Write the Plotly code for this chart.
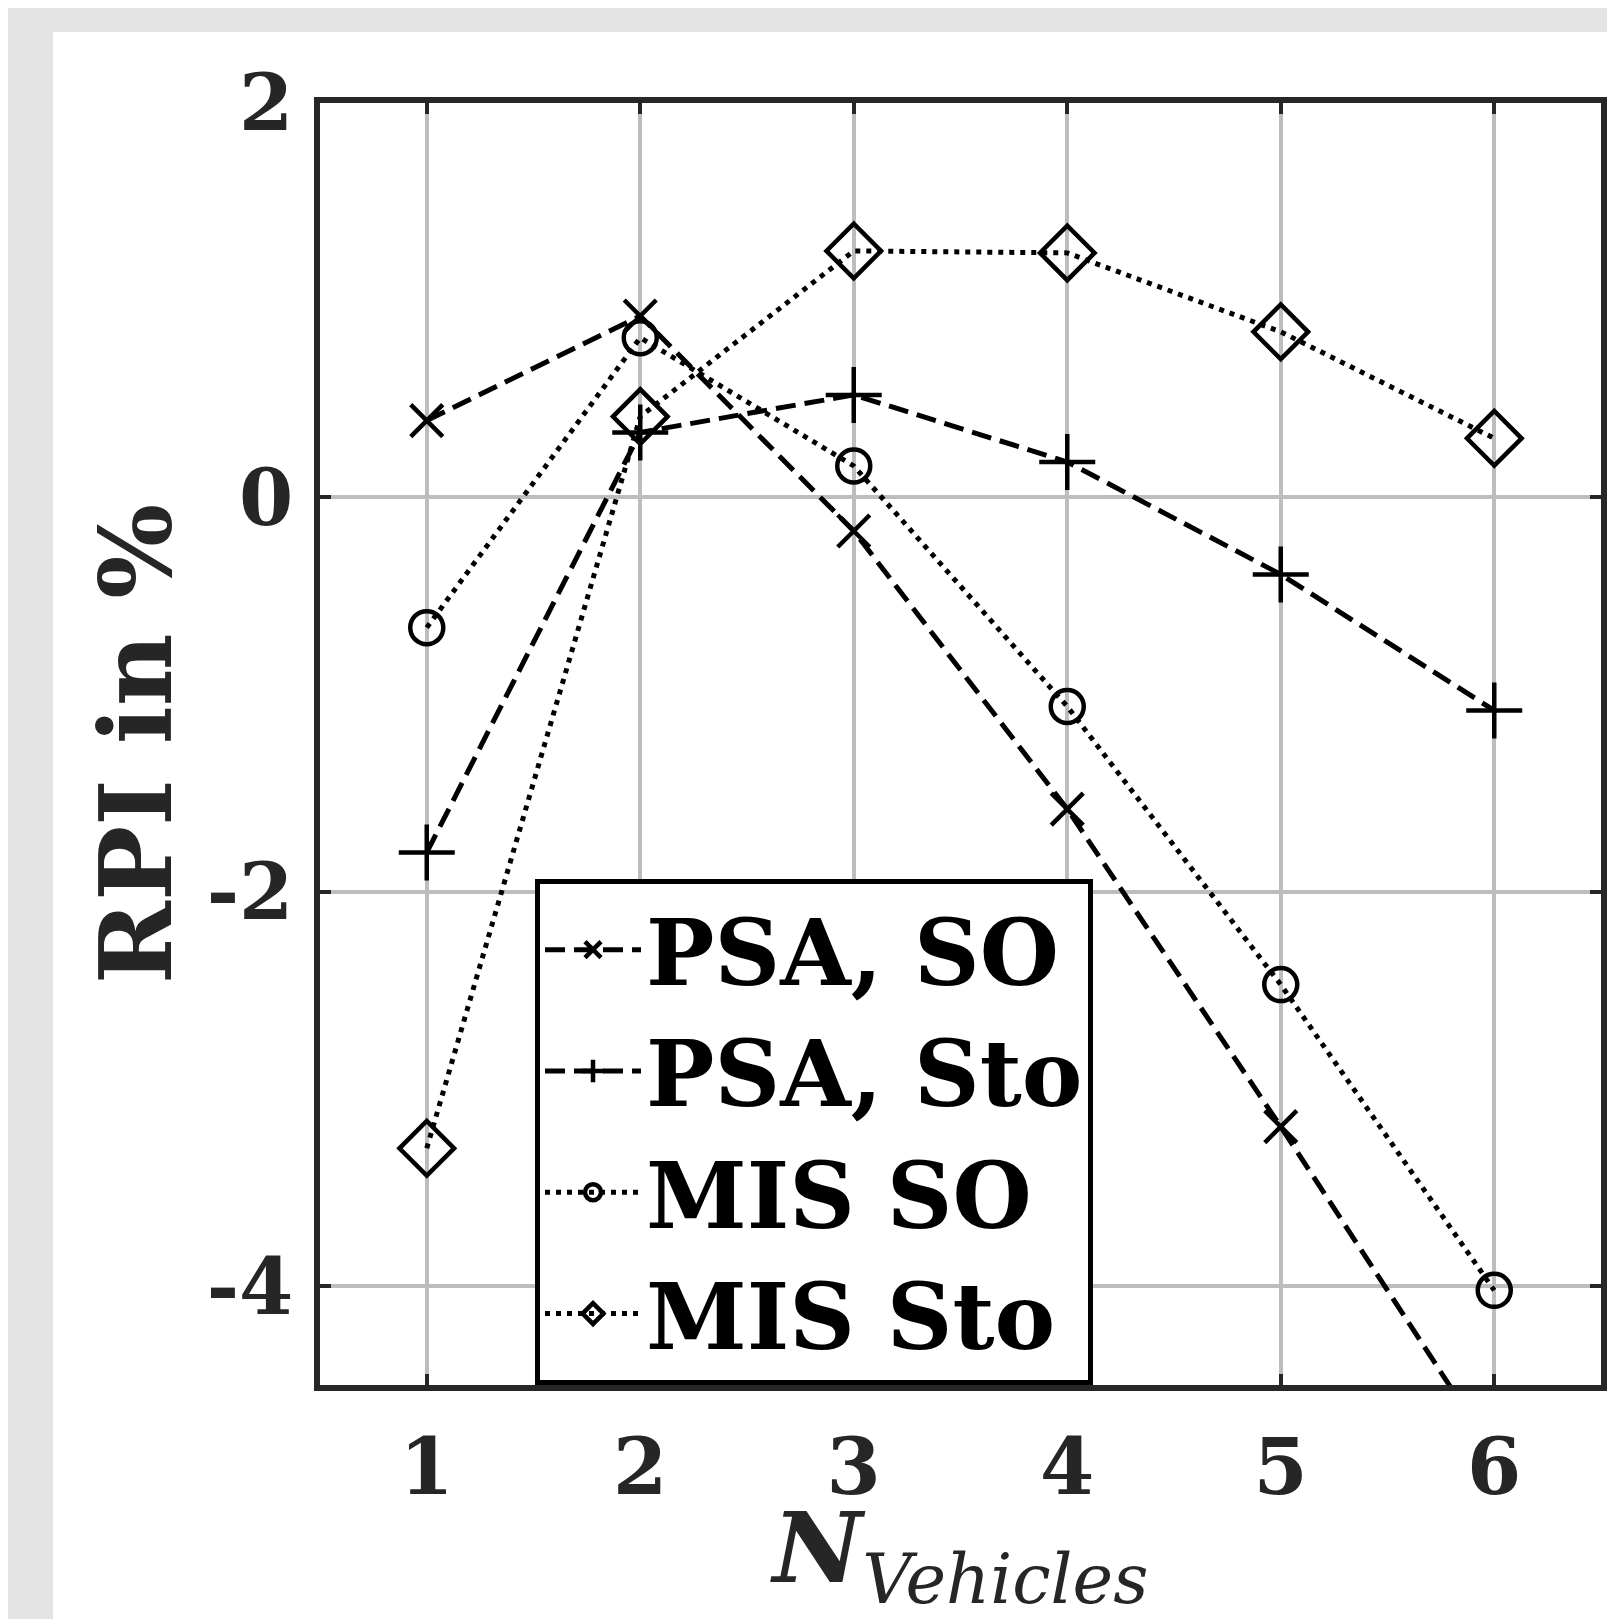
import plotly.graph_objects as go

# ---- data ----
n_vehicles = [1, 2, 3, 4, 5, 6]
psa_so = [0.39, 0.92, -0.17, -1.58, -3.19, -4.85]
psa_sto = [-1.80, 0.33, 0.52, 0.18, -0.39, -1.08]
mis_so = [-0.66, 0.81, 0.16, -1.06, -2.47, -4.02]
mis_sto = [-3.30, 0.41, 1.25, 1.24, 0.84, 0.30]
series_names = ["PSA, SO", "PSA, Sto", "MIS SO", "MIS Sto"]
x_tick_vals = [1, 2, 3, 4, 5, 6]
x_tick_text = ["1", "2", "3", "4", "5", "6"]
y_tick_vals = [-4, -2, 0, 2]
y_tick_text = ["-4", "-2", "0", "2"]

# ---- geometry (figure coords; page adds an 8px body margin) ----
OFF = 8
W, H = 1615 - OFF, 1619 - OFF
L, R, T, B = 320 - OFF, 1601 - OFF, 103 - OFF, 1385 - OFF
FONT = "DejaVu Serif"
INK = "#262626"
DASH = "20px,9px"
DOT = "5px,6px"

fig = go.Figure()
series = [
    (psa_so, series_names[0], "x-thin-open", 32, DASH),
    (psa_sto, series_names[1], "cross-thin-open", 40, DASH),
    (mis_so, series_names[2], "circle-open", 33, DOT),
    (mis_sto, series_names[3], "diamond-open", 42, DOT),
]
for ys, name, sym, size, dash in series:
    fig.add_trace(go.Scatter(
        x=n_vehicles, y=ys, name=name, mode="lines+markers",
        line=dict(color="black", width=5, dash=dash),
        marker=dict(symbol=sym, size=size, color="black",
                    line=dict(color="black", width=4.5)),
    ))

pw, ph = R - L, B - T
def px2x(p):
    return (p - OFF - L) / pw
def py2y(p):
    return (B - (p - OFF)) / ph

# white figure area over gray page
fig.add_shape(type="rect", xref="paper", yref="paper", layer="below",
              x0=px2x(53), x1=px2x(1660), y0=py2y(1680), y1=py2y(32),
              fillcolor="white", line=dict(width=0))

axis_common = dict(
    showline=True, linecolor=INK, linewidth=6, mirror="ticks",
    ticks="inside", ticklen=11, tickwidth=4, tickcolor=INK,
    showgrid=True, gridcolor="#bdbdbd", gridwidth=4,
    zeroline=False, automargin=False,
    tickfont=dict(family=FONT, size=78, color=INK, weight="bold"),
)

fig.update_xaxes(
    range=[0.5, 6.5], tickmode="array", tickvals=x_tick_vals, ticktext=x_tick_text,
    ticklabelstandoff=9,
    title=dict(text="<b><i>N</i></b><sub><i>Vehicles</i></sub>", standoff=8,
               font=dict(family=FONT, size=98, color=INK, weight="normal")),
    **axis_common,
)
fig.update_yaxes(
    range=[-4.5, 2], tickmode="array", tickvals=y_tick_vals, ticktext=y_tick_text,
    ticklabelstandoff=5,
    title=dict(text="RPI in %", standoff=4,
               font=dict(family=FONT, size=100, color=INK, weight="bold")),
    **axis_common,
)

fig.update_layout(
    width=W, height=H,
    margin=dict(l=L, r=W - R, t=T, b=H - B, autoexpand=False),
    paper_bgcolor="#e3e3e3", plot_bgcolor="white",
    showlegend=True,
    legend=dict(
        x=px2x(535), y=0, xanchor="left", yanchor="bottom",
        bgcolor="white", bordercolor="black", borderwidth=5,
        font=dict(family=FONT, size=91, color="black", weight="bold"),
        itemwidth=96, tracegroupgap=0, itemsizing="trace",
    ),
)

fig.write_html("out.html")
